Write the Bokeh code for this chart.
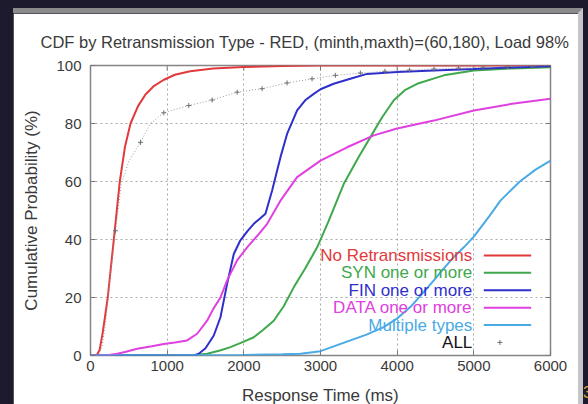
from bokeh.plotting import figure
from bokeh.models import Range1d, Title, FixedTicker, Div, ColumnDataSource
from bokeh.layouts import column, row
from bokeh.embed import file_html
from bokeh.resources import INLINE
from bokeh.core.properties import value

# Response-time CDFs per retransmission type (ms, %)
red_x = [0, 80, 120, 160, 225, 304, 382, 450, 522, 620, 717, 830, 952, 1100, 1300, 1600, 2000, 2500, 3000, 6000]
red_y = [0, 0, 2, 8, 20, 40, 60, 72, 80, 86, 90, 93, 95, 96.8, 98, 99, 99.5, 99.8, 100, 100]

syn_x = [0, 1300, 1521, 1700, 1825, 2000, 2130, 2250, 2390, 2520, 2651, 2800, 2956, 3100, 3304, 3500,
         3651, 3800, 3956, 4100, 4260, 4608, 5000, 5500, 6000]
syn_y = [0, 0, 0.6, 1.8, 2.9, 4.8, 6.3, 8.8, 12, 17, 23.5, 30, 37.3, 46, 59.2, 68.5,
         75.3, 82, 88, 91.5, 93.7, 96.6, 98.3, 99, 99.4]

fin_x = [0, 1350, 1413, 1500, 1608, 1695, 1782, 1869, 1950, 2050, 2130, 2200, 2282, 2369, 2478, 2564,
         2695, 2800, 2912, 3000, 3172, 3400, 3608, 4000, 4478, 5000, 5500, 6000]
fin_y = [0, 0, 0.6, 2.5, 6.9, 13.2, 24.7, 35, 39.5, 43, 45.4, 47, 48.9, 56.9, 68.4, 76.4,
         84.5, 88, 90.2, 91.8, 93.7, 95.5, 97.1, 97.8, 98.3, 98.8, 99.3, 99.7]

data_x = [0, 200, 348, 450, 609, 800, 956, 1100, 1260, 1391, 1521, 1600, 1695, 1782, 1912, 2043,
          2200, 2304, 2478, 2695, 3000, 3347, 3695, 4000, 4478, 5000, 5500, 6000]
data_y = [0, 0, 0.6, 1.2, 2.3, 3.2, 4.0, 4.5, 5.2, 7.5, 12, 16, 20, 25.9, 32.8, 37.3,
          42, 45.4, 53.4, 61.5, 67.2, 71.8, 75.9, 78.3, 81, 84.5, 86.8, 88.5]

multi_x = [0, 1000, 2000, 2500, 2738, 3000, 3390, 3600, 3824, 4000, 4172, 4300, 4478, 4600, 4738,
           4869, 5000, 5200, 5347, 5600, 5800, 6000]
multi_y = [0, 0, 0.2, 0.4, 0.6, 1.5, 5.2, 7.2, 9.8, 12.8, 16.7, 20.5, 25.9, 29.8, 33.9,
           37.3, 41, 48, 53.4, 60, 64, 67.2]

all_x = [0, 100, 150, 200, 250, 326, 400, 500, 652, 782, 956, 1282, 1587, 1913, 2238, 2564, 2890,
         3194, 3520, 3840, 4160, 4480, 4800, 5120, 5440, 5760, 6000]
all_y = [0, 0, 3, 12, 26, 43, 59, 67, 73.5, 80, 83.7, 86.2, 88.1, 90.8, 92, 94, 95.4,
         96.6, 97.4, 98, 98.4, 98.8, 99.1, 99.4, 99.6, 99.8, 100]
all_mark_x = [326, 652, 956, 1282, 1587, 1913, 2238, 2564, 2890, 3194, 3520, 3840, 4160, 4480,
              4800, 5120, 5440, 5760]
all_mark_y = [43, 73.5, 83.7, 86.2, 88.1, 90.8, 92, 94, 95.4, 96.6, 97.4, 98, 98.4, 98.8,
              99.1, 99.4, 99.6, 99.8]

series_names = ["No Retransmissions", "SYN one or more", "FIN one or more",
                "DATA one or more", "Multiple types", "ALL"]
series_colors = ["#e23a3c", "#3fa84c", "#2f2fcc", "#e040e0", "#4aaae6", "#111111"]

x_ticks = [0, 1000, 2000, 3000, 4000, 5000, 6000]
y_ticks = [0, 20, 40, 60, 80, 100]

FONT = "Liberation Sans"
TXT = "#3a3a3a"
TICK = "#777777"
FRAME_W, FRAME_H = 460, 290

p = figure(width=565, height=400, output_backend="svg", toolbar_location=None,
           x_range=Range1d(0, 6000), y_range=Range1d(0, 100),
           min_border_left=77, min_border_right=28, min_border_top=52, min_border_bottom=58,
           border_fill_color="white", background_fill_color="white")

p.title = Title(text="CDF by Retransmission Type - RED, (minth,maxth)=(60,180), Load 98%",
                align="left", offset=-50, standoff=30, text_font=FONT, text_font_size="16.5px",
                text_font_style="normal", text_color=TXT)

p.outline_line_color = "#858585"
p.outline_line_width = 1.5

for grid in (p.xgrid, p.ygrid):
    grid.grid_line_color = "#a8a8a8"
    grid.grid_line_dash = "2 3"
    grid.grid_line_width = 1

p.xaxis.ticker = FixedTicker(ticks=x_ticks)
p.yaxis.ticker = FixedTicker(ticks=y_ticks)
p.xaxis.axis_label = "Response Time (ms)"
p.yaxis.axis_label = "Cumulative Probability (%)"
p.xaxis.major_label_standoff = 5
p.yaxis.major_label_standoff = 9
p.xaxis.axis_label_standoff = 12
p.yaxis.axis_label_standoff = 12

for ax in (p.xaxis[0], p.yaxis[0]):
    ax.axis_line_color = None
    ax.major_tick_in = 5
    ax.major_tick_out = 0
    ax.major_tick_line_color = TICK
    ax.minor_tick_line_color = None
    ax.major_label_text_font = FONT
    ax.major_label_text_font_size = "15px"
    ax.major_label_text_color = TXT
    ax.axis_label_text_font = FONT
    ax.axis_label_text_font_size = "17px"
    ax.axis_label_text_font_style = "normal"
    ax.axis_label_text_color = TXT

# mirrored inward tick marks on the top and right borders
x_lo, x_hi = p.x_range.start, p.x_range.end
y_lo, y_hi = p.y_range.start, p.y_range.end
tick_dy = 5 * (y_hi - y_lo) / FRAME_H
tick_dx = 5 * (x_hi - x_lo) / FRAME_W
p.segment(x0=x_ticks, y0=[y_hi] * len(x_ticks), x1=x_ticks, y1=[y_hi - tick_dy] * len(x_ticks),
          line_color=TICK, line_width=1)
p.segment(x0=[x_hi] * len(y_ticks), y0=y_ticks, x1=[x_hi - tick_dx] * len(y_ticks), y1=y_ticks,
          line_color=TICK, line_width=1)

lw = 2
p.line(red_x, red_y, line_color=series_colors[0], line_width=lw)
p.line(syn_x, syn_y, line_color=series_colors[1], line_width=lw)
p.line(fin_x, fin_y, line_color=series_colors[2], line_width=lw)
p.line(data_x, data_y, line_color=series_colors[3], line_width=lw)
p.line(multi_x, multi_y, line_color=series_colors[4], line_width=lw)
p.line(all_x, all_y, line_color="#9a9a9a", line_width=1, line_dash="1 2")
p.scatter(all_mark_x, all_mark_y, marker="cross", size=5, line_color="#707070", line_width=1)

# key: right-aligned coloured labels followed by sample strokes
label_x = x_lo + 0.83 * (x_hi - x_lo)
key_x0 = x_lo + 0.855 * (x_hi - x_lo)
key_x1 = x_lo + 0.958 * (x_hi - x_lo)
key_mid = x_lo + 0.89 * (x_hi - x_lo)
row_y = [34.5 - 6.0 * i for i in range(len(series_names))]

key_src = ColumnDataSource(dict(x=[label_x] * 6, y=row_y, text=series_names, color=series_colors))
p.text(x="x", y="y", text="text", source=key_src, text_color="color", text_align="right",
       text_baseline="middle", text_font=value(FONT), text_font_size="17px")
p.segment(x0=[key_x0] * 5, y0=row_y[:5], x1=[key_x1] * 5, y1=row_y[:5],
          line_color=series_colors[:5], line_width=lw)
p.scatter([key_mid], [row_y[5]], marker="cross", size=5, line_color="#707070", line_width=1)

panel = column(p, styles={"border-top": "5px solid #8b8b8b", "border-right": "5px solid #c6c6c6"},
               margin=(8, 0, 0, 13))
slide_no = Div(text="3", width=6, height=22, margin=(382, 0, 0, 0),
               styles={"color": "#d9a23a", "font-family": FONT, "font-size": "16px",
                       "overflow": "hidden"})
page = row(panel, slide_no, width=588, height=404,
           styles={"background-color": "#1c1a2c", "overflow": "hidden"})

open("out.html", "w").write(file_html(page, INLINE))
